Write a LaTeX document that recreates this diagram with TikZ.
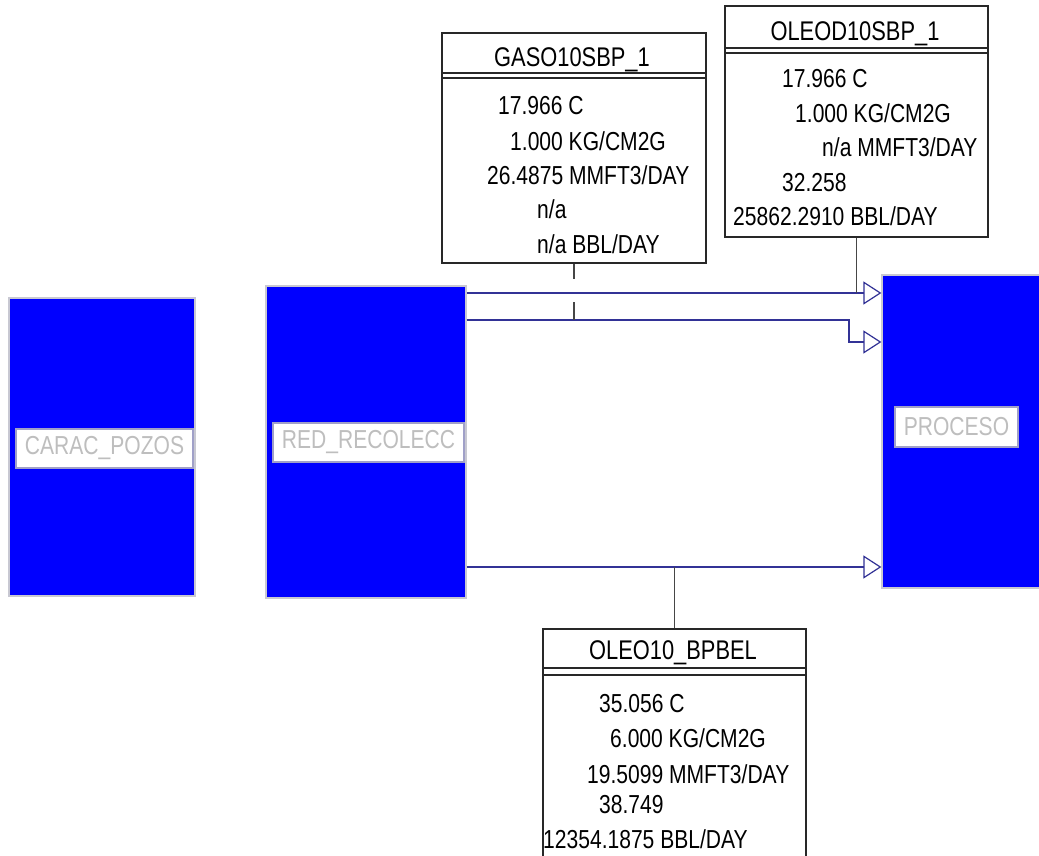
\documentclass[tikz,border=0pt]{standalone}
\usepackage{fontspec}
\newfontfamily\cond[FakeStretch=0.81]{Liberation Sans}
\usetikzlibrary{arrows.meta,calc}
\definecolor{blk}{RGB}{0,0,255}
\definecolor{blkborder}{RGB}{200,200,210}
\definecolor{lblborder}{RGB}{160,160,200}
\definecolor{lbltext}{RGB}{190,190,190}
\definecolor{pipecol}{RGB}{50,50,150}
\definecolor{leadcol}{RGB}{70,70,70}
\definecolor{boxcol}{RGB}{40,40,40}
\tikzset{
  x=1pt, y=-1pt,
  unit/.style={draw=blkborder, fill=blk, line width=1.2pt, inner sep=0pt},
  unitlabel/.style={draw=lblborder, fill=white, line width=1.2pt, inner sep=0pt,
    text=lbltext, font=\cond\fontsize{26}{30}\selectfont},
  streambox/.style={draw=boxcol, fill=white, line width=1.2pt, inner sep=0pt},
  head/.style={anchor=base, inner sep=0pt, text=black, font=\cond\fontsize{27}{30}\selectfont},
  val/.style={anchor=base west, inner sep=0pt, text=black, font=\cond\fontsize{26}{30}\selectfont},
  pipe/.style={draw=pipecol, line width=1.2pt, -{Triangle[open, length=18pt, width=23pt, line width=1.2pt]}},
  leader/.style={draw=leadcol, line width=1.2pt},
  sep/.style={draw=boxcol, line width=1.2pt}
}
\begin{document}
\begin{tikzpicture}
\useasboundingbox[fill=white] (0,0) rectangle (1039,856);

% unit blocks
\node[unit, minimum width=186pt, minimum height=298pt] (carac) at (102,447) {};
\node[unit, minimum width=200pt, minimum height=312pt] (red) at (366,442) {};
\node[unit, minimum width=170pt, minimum height=313pt] (proc) at (967,431.5) {};

\node[unitlabel, minimum width=177pt, minimum height=39pt] (caracl) at (104.5,448.5) {CARAC\_POZOS};
\node[unitlabel, minimum width=191pt, minimum height=39pt] (redl) at (368.5,442.5) {RED\_RECOLECC};
\node[unitlabel, minimum width=123pt, minimum height=40pt] (procl) at (956.5,427) {PROCESO};

% connector rows
\coordinate (r1) at (0,293);
\coordinate (r2) at (0,320);
\coordinate (r2b) at (849,342);
\coordinate (r3) at (0,567);

\draw[pipe] (red.east |- r1) -- (proc.west |- r1);
\draw[pipe] (red.east |- r2) -| (r2b) -- (proc.west |- r2b);
\draw[pipe] (red.east |- r3) -- (proc.west |- r3);

% stream boxes
\node[streambox, minimum width=264pt, minimum height=230pt] (gaso) at (574,148) {};
\node[streambox, minimum width=263pt, minimum height=231pt] (oleod) at (856.5,121.5) {};
\node[streambox, minimum width=263pt, minimum height=236pt] (oleo) at (674.5,747) {};

% header separators
\draw[sep] ($(gaso.west)+(0,-75)$) -- ($(gaso.east)+(0,-75)$);
\draw[sep] ($(gaso.west)+(0,-70)$) -- ($(gaso.east)+(0,-70)$);
\draw[sep] ($(oleod.west)+(0,-73.5)$) -- ($(oleod.east)+(0,-73.5)$);
\draw[sep] ($(oleod.west)+(0,-68.5)$) -- ($(oleod.east)+(0,-68.5)$);
\draw[sep] ($(oleo.west)+(0,-79)$) -- ($(oleo.east)+(0,-79)$);
\draw[sep] ($(oleo.west)+(0,-72)$) -- ($(oleo.east)+(0,-72)$);

% leaders
\coordinate (g1) at (574,279);
\coordinate (g2) at (574,302);
\draw[leader] (gaso.south) -- (g1);
\draw[leader] (g2) -- (gaso.south |- r2);
\draw[leader] (oleod.south) -- (oleod.south |- r1);
\draw[leader] (oleo.north |- r3) -- (oleo.north);

% GASO text
\node[head] (gh) at (572,67) {GASO10SBP\_1};
\node[val] (g1t) at (498,115) {17.966 C};
\node[val] (g2t) at (510,150) {1.000 KG/CM2G};
\node[val] (g3t) at (487,185) {26.4875 MMFT3/DAY};
\node[val] (g4t) at (537,218) {n/a};
\node[val] (g5t) at (537,253) {n/a BBL/DAY};

% OLEOD text
\node[head] (oh) at (855,41) {OLEOD10SBP\_1};
\node[val] (o1t) at (782,88) {17.966 C};
\node[val] (o2t) at (795,123) {1.000 KG/CM2G};
\node[val] (o3t) at (822,157) {n/a MMFT3/DAY};
\node[val] (o4t) at (782,192) {32.258};
\node[val] (o5t) at (733,225) {25862.2910 BBL/DAY};

% OLEO10 text
\node[head] (bh) at (673,659) {OLEO10\_BPBEL};
\node[val] (b1t) at (599,712) {35.056 C};
\node[val] (b2t) at (610,747) {6.000 KG/CM2G};
\node[val] (b3t) at (587,783) {19.5099 MMFT3/DAY};
\node[val] (b4t) at (599,813) {38.749};
\node[val] (b5t) at (543,848) {12354.1875 BBL/DAY};
\end{tikzpicture}
\end{document}
